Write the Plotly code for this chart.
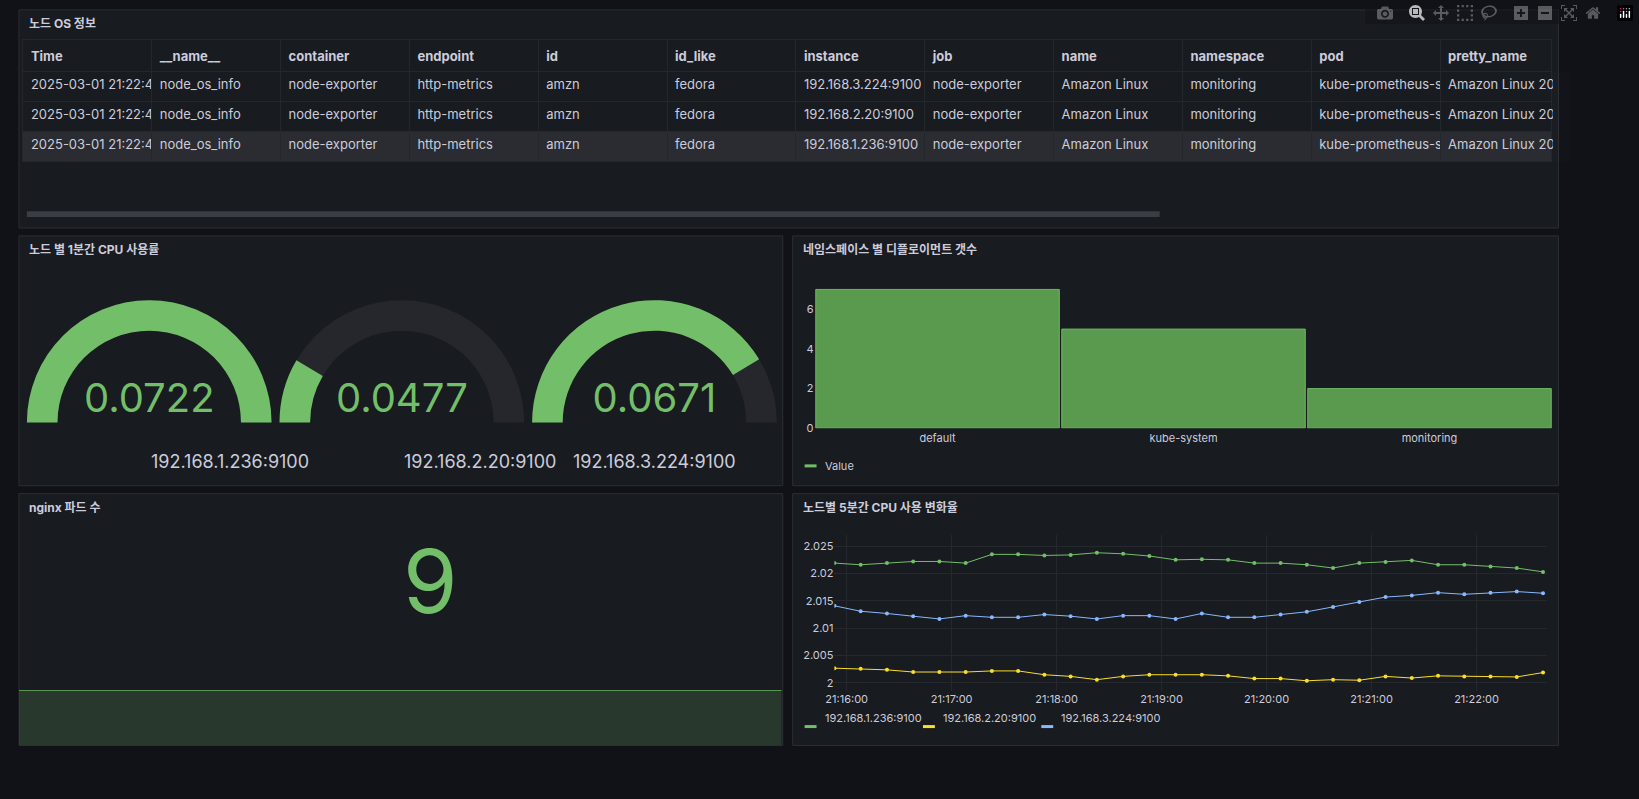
import plotly.graph_objects as go
import pandas as pd

W, H = 1639, 799
BG = "#111217"
PANEL = "#181b1f"
BORDER = "#2b2e34"
TEXT = "#ccccdc"
GREEN = "#73bf69"
YELLOW = "#fade2a"
BLUE = "#8ab8ff"

# table data
columns = ["Time", "__name__", "container", "endpoint", "id", "id_like", "instance",
           "job", "name", "namespace", "pod", "pretty_name"]
instances = ["192.168.3.224:9100", "192.168.2.20:9100", "192.168.1.236:9100"]
row_time = "2025-03-01 21:22:47."
row_pod = "kube-prometheus-sta"
row_pretty = "Amazon Linux 202"

# gauges
gauge_nodes = ["192.168.1.236:9100", "192.168.2.20:9100", "192.168.3.224:9100"]
gauge_values = [0.0722, 0.0477, 0.0671]
gauge_min, gauge_max = 0.0427, 0.0722

# deployments per namespace
namespaces = ["default", "kube-system", "monitoring"]
deployments = [7, 5, 2]

# nginx pods
nginx_pods = [9, 9, 9, 9, 9, 9, 9, 9]

# cpu change 5m
times = pd.date_range("2025-03-01 21:15:53", periods=28, freq="15s")
cpu_236 = [2.0219, 2.0216, 2.0219, 2.0222, 2.0222, 2.0219, 2.0235, 2.0235, 2.0233, 2.0234,
           2.0238, 2.0236, 2.0232, 2.0225, 2.0226, 2.0225, 2.0219, 2.0219, 2.0216, 2.0210,
           2.0219, 2.0221, 2.0224, 2.0216, 2.0216, 2.0213, 2.0210, 2.0203]
cpu_20 = [2.0027, 2.0026, 2.0024, 2.0020, 2.0020, 2.0020, 2.0022, 2.0022, 2.0015, 2.0012,
          2.0006, 2.0012, 2.0015, 2.0015, 2.0015, 2.0013, 2.0008, 2.0008, 2.0004, 2.0006,
          2.0005, 2.0012, 2.0009, 2.0013, 2.0012, 2.0012, 2.0011, 2.0019]
cpu_224 = [2.0141, 2.0131, 2.0127, 2.0122, 2.0117, 2.0123, 2.0120, 2.0120, 2.0125, 2.0122,
           2.0117, 2.0123, 2.0123, 2.0117, 2.0127, 2.0120, 2.0120, 2.0125, 2.0130, 2.0139,
           2.0148, 2.0157, 2.0160, 2.0165, 2.0162, 2.0165, 2.0167, 2.0164]


def px(x):
    return x / W


def py(y):
    return 1 - y / H


def nb(s):
    # keep cell text on one line
    return s.replace(" ", "\u00a0")


fig = go.Figure()
shapes, annos = [], []

panels = [(10, 10, 1558, 230, "노드 OS 정보"),
          (10, 238, 778, 490, "노드 별 1분간 CPU 사용률"),
          (788, 238, 1558, 490, "네임스페이스 별 디플로이먼트 갯수"),
          (10, 498, 778, 752, "nginx 파드 수"),
          (788, 498, 1558, 752, "노드별 5분간 CPU 사용 변화율")]
for x0, y0, x1, y1, title in panels:
    shapes.append(dict(type="rect", xref="paper", yref="paper", x0=px(x0), x1=px(x1),
                       y0=py(y1), y1=py(y0), fillcolor=PANEL, line=dict(color=BORDER, width=1),
                       layer="below"))
    annos.append(dict(text="<b>" + title + "</b>", xref="paper", yref="paper", x=px(x0 + 8),
                      y=py(y0 + 14), xanchor="left", yanchor="middle", showarrow=False,
                      font=dict(size=12, color=TEXT)))

# table
n = 3
cells = [[nb(row_time)] * n, ["node_os_info"] * n, ["node-exporter"] * n, ["http-metrics"] * n,
         ["amzn"] * n, ["fedora"] * n, instances, ["node-exporter"] * n,
         [nb("Amazon Linux")] * n, ["monitoring"] * n, [row_pod] * n, [nb(row_pretty)] * n]
fills = [[PANEL, PANEL, "#2a2c31"]] * len(columns)
fig.add_trace(go.Table(
    domain=dict(x=[px(14), px(1552)], y=[py(165), py(40)]),
    columnwidth=[129] * 11 + [112],
    header=dict(values=["<b>%s</b>" % c for c in columns], fill_color=PANEL, align="left",
                line=dict(color="#24272c", width=1), height=30,
                font=dict(color=TEXT, size=13)),
    cells=dict(values=cells, fill_color=fills, align="left", height=30,
               line=dict(color="#24272c", width=1), font=dict(color=TEXT, size=13))))
shapes.append(dict(type="rect", xref="paper", yref="paper", x0=px(18), x1=px(1157),
                   y0=py(219), y1=py(213), fillcolor="#3a3d44", line=dict(width=0)))

# gauges
gx = [(18, 264), (272, 518), (526, 772)]
for (a, b), node, v in zip(gx, gauge_nodes, gauge_values):
    fig.add_trace(go.Indicator(
        mode="gauge+number", value=v,
        domain=dict(x=[px(a), px(b)], y=[py(445), py(284)]),
        number=dict(font=dict(size=40, color=GREEN), valueformat=".4f"),
        gauge=dict(axis=dict(range=[gauge_min, gauge_max], visible=False),
                   bar=dict(color=GREEN, thickness=1), bgcolor="#26272c",
                   borderwidth=0, shape="angular")))
    annos.append(dict(text=node, xref="paper", yref="paper", x=px((a + b) / 2), y=py(466),
                      showarrow=False, font=dict(size=18, color=TEXT)))

# bar chart
fig.add_trace(go.Bar(x=namespaces, y=deployments, marker=dict(color="#5a9a4f",
                     line=dict(color="#6cb862", width=1)), xaxis="x2", yaxis="y2",
                     showlegend=False))
shapes.append(dict(type="line", xref="paper", yref="paper", x0=px(800), x1=px(812),
                   y0=py(470), y1=py(470), line=dict(color=GREEN, width=3)))
annos.append(dict(text="Value", xref="paper", yref="paper", x=px(818), y=py(470),
                  xanchor="left", showarrow=False, font=dict(size=11, color=TEXT)))

# nginx stat
fig.add_trace(go.Scatter(x=list(range(len(nginx_pods))), y=nginx_pods, mode="lines",
                         line=dict(color=GREEN, width=1), fill="tozeroy",
                         fillcolor="rgba(115,191,105,0.18)", xaxis="x4", yaxis="y4",
                         showlegend=False, hoverinfo="skip"))
annos.append(dict(text=str(nginx_pods[-1]), xref="paper", yref="paper", x=px(394), y=py(642),
                  showarrow=False, font=dict(size=88, color=GREEN)))

# time series
for name, ys, col in [("192.168.1.236:9100", cpu_236, GREEN),
                      ("192.168.2.20:9100", cpu_20, YELLOW),
                      ("192.168.3.224:9100", cpu_224, BLUE)]:
    fig.add_trace(go.Scatter(x=times, y=ys, mode="lines+markers", name=name,
                             line=dict(color=col, width=1), marker=dict(size=4, color=col),
                             xaxis="x3", yaxis="y3", showlegend=False))
lx = 800
for name, col in [("192.168.1.236:9100", GREEN), ("192.168.2.20:9100", YELLOW),
                  ("192.168.3.224:9100", BLUE)]:
    shapes.append(dict(type="line", xref="paper", yref="paper", x0=px(lx), x1=px(lx + 12),
                       y0=py(733), y1=py(733), line=dict(color=col, width=3)))
    annos.append(dict(text=name, xref="paper", yref="paper", x=px(lx + 18), y=py(733),
                      xanchor="left", showarrow=False, font=dict(size=11, color=TEXT)))
    lx += 119

axfont = dict(size=11, color=TEXT)
fig.update_layout(
    width=W, height=H, margin=dict(l=0, r=0, t=0, b=0),
    paper_bgcolor=BG, plot_bgcolor="rgba(0,0,0,0)",
    font=dict(family="Inter, Noto Sans CJK KR, sans-serif", color=TEXT),
    shapes=shapes, annotations=annos, bargap=0.01,
    xaxis2=dict(domain=[px(810), px(1552)], anchor="y2", tickfont=axfont, showgrid=False,
                ticks="", linecolor="rgba(0,0,0,0)"),
    yaxis2=dict(domain=[py(432), py(288)], anchor="x2", range=[0, 7.2], tickvals=[0, 2, 4, 6],
                tickfont=axfont, showgrid=False, zeroline=False),
    xaxis3=dict(domain=[px(830), px(1546)], anchor="y3", tickfont=axfont, tickformat="%H:%M:%S",
                dtick=60000, gridcolor="#25282d", zeroline=False,
                range=[times[0], times[-1] + pd.Timedelta(seconds=2)]),
    yaxis3=dict(domain=[py(697), py(540)], anchor="x3", range=[1.99855, 2.02699],
                tickvals=[2, 2.005, 2.01, 2.015, 2.02, 2.025],
                ticktext=["2", "2.005", "2.01", "2.015", "2.02", "2.025"],
                tickfont=axfont, gridcolor="#25282d", zeroline=False),
    xaxis4=dict(domain=[px(10), px(777)], anchor="y4", visible=False,
                range=[0, len(nginx_pods) - 1]),
    yaxis4=dict(domain=[py(752), py(696)], anchor="x4", visible=False, range=[0, 9.05]),
)
fig.write_html("out.html",
               post_script="document.body.style.margin='0';document.body.style.overflow='hidden';"
                           "document.body.style.background='#111217';")
